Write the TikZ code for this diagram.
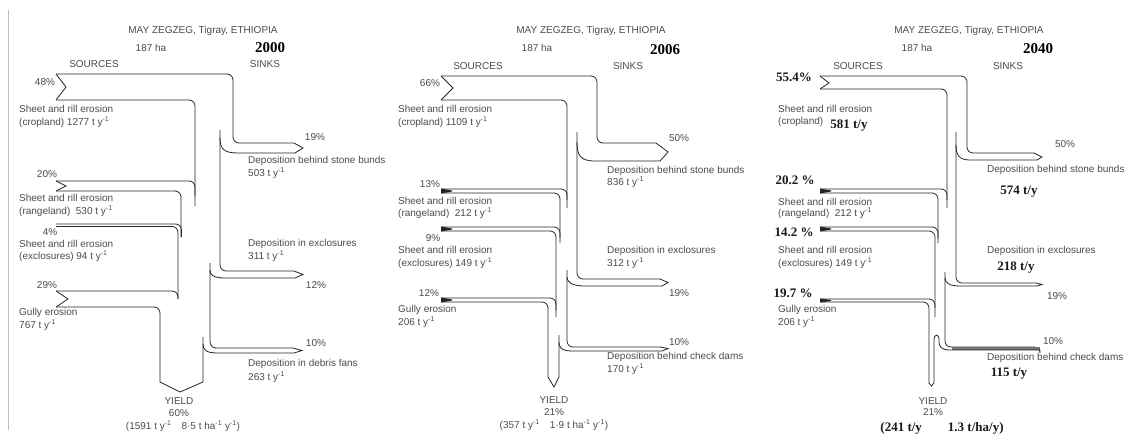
\documentclass[tikz,border=0pt]{standalone}
\usepackage{fontspec}
\setmainfont{Liberation Sans}
\newfontfamily\tnr{Liberation Serif}
\newcommand\inv{\textsuperscript{-1}}
\tikzset{
  flow/.style={draw=black!85, line width=0.8pt, rounded corners=6pt},
  ln/.style={draw=black!85, line width=0.8pt},
  lab/.style={inner sep=0pt, text=black!70, font=\fontsize{10}{12}\selectfont},
  labw/.style={lab, anchor=west},
  yr/.style={inner sep=0pt, font=\tnr\bfseries\fontsize{15}{16}\selectfont},
  bv/.style={inner sep=0pt, text=black!90, font=\tnr\bfseries\fontsize{13}{14}\selectfont},
  nib/.style={fill=black!85, draw=none},
}
\begin{document}
\begin{tikzpicture}[x=1pt,y=-1pt]
\useasboundingbox (0,0) rectangle (1126,436);
\fill[white] (0,0) rectangle (1126,436);
\draw[black!25, line width=0.6pt] (8,10) -- (8,430);

% ================= PANEL 1 (2000) =================
\draw[flow] (56,74) -- (233,74) -- (233,143) -- (294,143);
\draw[ln] (56,74) -- (66,87) -- (56,100);
\draw[flow] (56,100) -- (195,100) -- (195,206);
\draw[ln] (294,143) -- (303,148) -- (295,153);
\draw[ln] (295,153) -- (238,153) .. controls (224,153) and (220,149) .. (220,138);
\draw[flow] (220,130) -- (220,271) -- (294,271);
\draw[ln] (294,271) -- (303,274.5) -- (295,278);
\draw[ln] (295,278) -- (226,278) .. controls (213,278) and (210,275) .. (210,270);
\draw[flow] (210,263) -- (210,348) -- (293,348);
\draw[ln] (293,348) -- (302,350.5) -- (294,353);
\draw[ln] (294,353) -- (218,353) .. controls (206,353) and (203,350) .. (203,344);
\draw[ln] (203,337) -- (203,382) -- (180,392) -- (160,382);
\draw[flow] (56,307) -- (160,307) -- (160,382.4);
\draw[ln] (56,291) -- (68,299) -- (56,307);
\draw[flow] (56,291) -- (178,291) -- (178,299);
\draw[ln] (56,181) -- (66,186) -- (56,191);
\draw[flow] (56,181) -- (195,181) -- (195,196);
\draw[flow] (56,191) -- (181,191) -- (181,237);
\draw[flow] (56,224) -- (181.5,224) -- (181.5,237);
\draw[flow] (56,226.5) -- (178,226.5) -- (178,299);

\node[lab] (t1) at (203,31) {MAY ZEGZEG, Tigray, ETHIOPIA};
\node[lab] (h1) at (151,48) {187 ha};
\node[yr] (y1) at (270,48) {2000};
\node[lab] (so1) at (94,64) {SOURCES};
\node[lab] (si1) at (265,64) {SINKS};
\node[lab] (p1a) at (45,82) {48\%};
\node[labw] (s1a) at (19,109) {Sheet and rill erosion};
\node[labw] (s1b) at (19,122) {(cropland) 1277 t y\inv};
\node[lab] (p1b) at (315,137) {19\%};
\node[labw] (d1a) at (248,161) {Deposition behind stone bunds};
\node[labw] (d1b) at (248,173) {503 t y\inv};
\node[lab] (p1c) at (47,174) {20\%};
\node[labw] (s1c) at (19,198) {Sheet and rill erosion};
\node[labw] (s1d) at (19,211) {(rangeland)\ \ 530 t y\inv};
\node[lab] (p1d) at (50,232) {4\%};
\node[labw] (s1e) at (19,244) {Sheet and rill erosion};
\node[labw] (s1f) at (19,256) {(exclosures) 94 t y\inv};
\node[labw] (d1c) at (248,244) {Deposition in exclosures};
\node[labw] (d1d) at (248,256) {311 t y\inv};
\node[lab] (p1e) at (316,285) {12\%};
\node[lab] (p1f) at (47,285) {29\%};
\node[labw] (s1g) at (19,313) {Gully erosion};
\node[labw] (s1h) at (19,325) {767 t y\inv};
\node[lab] (p1g) at (316,343) {10\%};
\node[labw] (d1e) at (248,364) {Deposition in debris fans};
\node[labw] (d1f) at (248,377) {263 t y\inv};
\node[lab] (yl1) at (179,401) {YIELD};
\node[lab] (yp1) at (179,413) {60\%};
\node[lab] (yv1) at (183,426) {(1591 t y\inv\quad 8·5 t ha\inv\ y\inv)};

% ================= PANEL 2 (2006) =================
\draw[ln] (441,76) -- (453,88) -- (441,100);
\draw[flow] (441,76) -- (597,76) -- (597,143) -- (656,143);
\draw[ln] (656,143) -- (668,152) -- (660,161);
\draw[ln] (660,161) -- (595,161) .. controls (580,161) and (577,155) .. (577,142);
\draw[flow] (441,100) -- (567,100) -- (567,208);
\draw[flow] (577,132) -- (577,279) -- (660,279);
\draw[ln] (660,279) -- (668,282.5) -- (662,286);
\draw[ln] (662,286) -- (585,286) .. controls (570,286) and (567,281) .. (567,277);
\draw[flow] (567,270) -- (567,347) -- (660,347);
\draw[ln] (660,347) -- (668,348.5) -- (662,351);
\draw[ln] (662,351) -- (572,351) .. controls (561,351) and (559,347) .. (559,342);
\draw[ln] (559,335) -- (559,377) -- (554,387) -- (548,377);
\draw[flow] (441,302) -- (548,302) -- (548,377.4);
\draw[flow] (441,298) -- (556,298) -- (556,310);
\draw[flow] (441,189) -- (567,189) -- (567,200);
\draw[flow] (441,193) -- (560,193) -- (560,243);
\draw[flow] (441,227) -- (560,227) -- (560,238);
\draw[flow] (441,231) -- (556,231) -- (556,317);
\fill[nib] (441,188.5) -- (452,190.5) -- (452,191.5) -- (441,193.5) -- cycle;
\fill[nib] (441,226.5) -- (452,228.5) -- (452,229.5) -- (441,231.5) -- cycle;
\fill[nib] (441,297.5) -- (452,299.5) -- (452,300.5) -- (441,302.5) -- cycle;

\node[lab] (t2) at (591,31) {MAY ZEGZEG, Tigray, ETHIOPIA};
\node[lab] (h2) at (537,48) {187 ha};
\node[yr] (y2) at (665,50) {2006};
\node[lab] (so2) at (478,66) {SOURCES};
\node[lab] (si2) at (628,66) {SINKS};
\node[lab] (p2a) at (430,83) {66\%};
\node[labw] (s2a) at (398,109) {Sheet and rill erosion};
\node[labw] (s2b) at (398,122) {(cropland) 1109 t y\inv};
\node[lab] (p2b) at (679,138) {50\%};
\node[labw] (d2a) at (607,171) {Deposition behind stone bunds};
\node[labw] (d2b) at (607,182) {836 t y\inv};
\node[lab] (p2c) at (430,184) {13\%};
\node[labw] (s2c) at (398,201) {Sheet and rill erosion};
\node[labw] (s2d) at (398,213) {(rangeland)\ \ 212 t y\inv};
\node[lab] (p2d) at (433,238) {9\%};
\node[labw] (s2e) at (398,250) {Sheet and rill erosion};
\node[labw] (s2f) at (398,263) {(exclosures) 149 t y\inv};
\node[labw] (d2c) at (607,251) {Deposition in exclosures};
\node[labw] (d2d) at (607,263) {312 t y\inv};
\node[lab] (p2e) at (679,293) {19\%};
\node[lab] (p2f) at (429,293) {12\%};
\node[labw] (s2g) at (398,310) {Gully erosion};
\node[labw] (s2h) at (398,322) {206 t y\inv};
\node[lab] (p2g) at (679,342) {10\%};
\node[labw] (d2e) at (607,357) {Deposition behind check dams};
\node[labw] (d2f) at (607,369) {170 t y\inv};
\node[lab] (yl2) at (554,400) {YIELD};
\node[lab] (yp2) at (554,412) {21\%};
\node[lab] (yv2) at (554,425) {(357 t y\inv\quad 1·9 t ha\inv\ y\inv)};

% ================= PANEL 3 (2040) =================
\draw[ln] (820,76) -- (829,83) -- (820,89);
\draw[flow] (820,76) -- (967,76) -- (967,153) -- (1034,153);
\draw[ln] (1034,153) -- (1042,157) -- (1037,160);
\draw[ln] (1037,160) -- (970,160) .. controls (959,160) and (956,155) .. (956,145);
\draw[flow] (820,89) -- (947,89) -- (947,208);
\draw[flow] (956,132) -- (956,283) -- (1036,283);
\draw[ln] (1036,283) -- (1042,284.5) -- (1037,286);
\draw[ln] (1037,286) -- (960,286) .. controls (948,286) and (945,282) .. (945,278);
\draw[flow] (945,272) -- (945,347) -- (1040,347) -- (1040,350);
\fill[black!55] (952,347.4) rectangle (1040,349.6);
\draw[ln] (1040,350) -- (950,350) .. controls (941,350) and (939,346) .. (939,342)
  -- (939,339) .. controls (939,334) and (934,334) .. (934,339) -- (934,383) -- (931.5,386) -- (929,383);
\draw[flow] (820,302) -- (929,302) -- (929,383.4);
\draw[flow] (820,299) -- (935,299) -- (935,308);
\draw[flow] (820,189) -- (947,189) -- (947,200);
\draw[flow] (820,193) -- (938,193) -- (938,243);
\draw[flow] (820,227) -- (938,227) -- (938,238);
\draw[flow] (820,231) -- (935,231) -- (935,317);
\fill[nib] (820,188.5) -- (831,190.5) -- (831,191.5) -- (820,193.5) -- cycle;
\fill[nib] (820,226.5) -- (831,228.5) -- (831,229.5) -- (820,231.5) -- cycle;
\fill[nib] (820,298.5) -- (831,300) -- (831,301) -- (820,302.5) -- cycle;

\node[lab] (t3) at (969,31) {MAY ZEGZEG, Tigray, ETHIOPIA};
\node[lab] (h3) at (917,48) {187 ha};
\node[yr] (y3) at (1038,49) {2040};
\node[lab] (so3) at (858,66) {SOURCES};
\node[lab] (si3) at (1008,66) {SINKS};
\node[bv] (p3a) at (794,77) {55.4\%};
\node[labw] (s3a) at (778,109) {Sheet and rill erosion};
\node[labw] (s3b) at (778,122) {(cropland)};
\node[bv] (b3a) at (849,126) {581 t/y};
\node[lab] (p3b) at (1065,144) {50\%};
\node[labw] (d3a) at (987,170) {Deposition behind stone bunds};
\node[bv] (b3b) at (1019,192) {574 t/y};
\node[bv] (p3c) at (795,180) {20.2 \%};
\node[labw] (s3c) at (778,202) {Sheet and rill erosion};
\node[labw] (s3d) at (778,213) {(rangeland)\ \ 212 t y\inv};
\node[bv] (p3d) at (794,232) {14.2 \%};
\node[labw] (s3e) at (778,250) {Sheet and rill erosion};
\node[labw] (s3f) at (778,263) {(exclosures) 149 t y\inv};
\node[labw] (d3c) at (987,251) {Deposition in exclosures};
\node[bv] (b3c) at (1016,268) {218 t/y};
\node[lab] (p3e) at (1057,296) {19\%};
\node[bv] (p3f) at (793,293) {19.7 \%};
\node[labw] (s3g) at (778,310) {Gully erosion};
\node[labw] (s3h) at (778,322) {206 t y\inv};
\node[lab] (p3g) at (1053,341) {10\%};
\node[labw] (d3e) at (987,358) {Deposition behind check dams};
\node[bv] (b3d) at (1009,374) {115 t/y};
\node[lab] (yl3) at (933,401) {YIELD};
\node[lab] (yp3) at (933,412) {21\%};
\node[bv] (yv3) at (942,428) {(241 t/y\qquad 1.3 t/ha/y)};
\end{tikzpicture}
\end{document}
